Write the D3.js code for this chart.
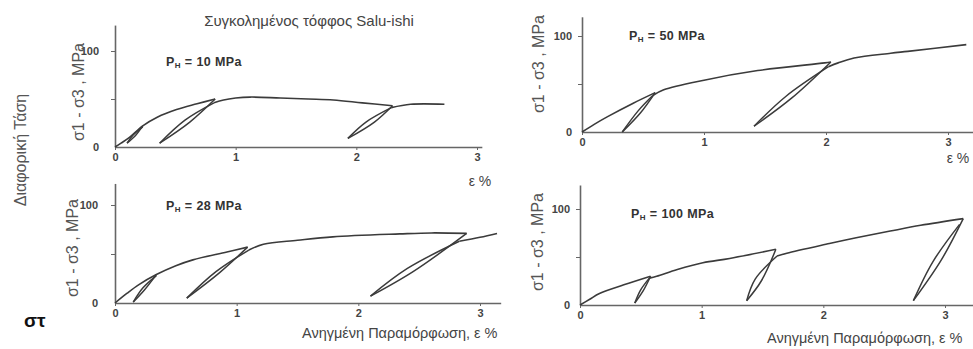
<!DOCTYPE html>
<html>
<head>
<meta charset="utf-8">
<script src="https://cdn.jsdelivr.net/npm/d3@7"></script>
<style>
  body { margin: 0; background: #fff; }
  svg { display: block; font-family: "Liberation Sans", Arial, sans-serif; }
</style>
</head>
<body>
<div id="chart"></div>
<script>
// ---- data (strain %, stress MPa) ----
var xTicks = [0, 1, 2, 3]
var yTicks = [0, 50, 100]
var yLabeled = [0, 100]

var pressures = ["10", "28", "50", "100"]

// envelope pieces, split where an unload loop starts
var env10 = [
  [[0,0],[0.05,4],[0.12,10],[0.23,22],[0.35,31],[0.51,39],[0.68,45],[0.83,50]],
  [[0.82,46],[0.9,49],[1.0,51],[1.12,52],[1.37,51],[1.6,50],[1.81,49],[2.05,46],[2.30,43]],
  [[2.29,41],[2.45,44.5],[2.73,44.5]]
]
// loop = top, unload mid, bottom, reload mid, exit
var loops10 = [
  [[0.23,22],[0.17,12],[0.10,4],[0.15,12.5],[0.23,21]],
  [[0.83,50],[0.62,26],[0.37,4],[0.58,28],[0.82,46]],
  [[2.30,43],[2.15,26],[1.93,9],[2.08,26],[2.29,41]]
]

var env28 = [
  [[0,0],[0.1,10],[0.2,19],[0.34,29],[0.5,38],[0.64,44],[0.92,52],[1.09,57]],
  [[1.10,54],[1.22,60],[1.5,64],[1.79,67.5],[2.34,70.5],[2.6,71.5],[2.89,71]],
  [[2.83,63],[3.0,67],[3.14,71]]
]
var loops28 = [
  [[0.34,29],[0.24,13],[0.15,1],[0.23,15.5],[0.34,28]],
  [[1.09,57],[0.86,31],[0.59,5],[0.83,32],[1.10,54]],
  [[2.89,71],[2.45,32],[2.10,7],[2.40,35],[2.83,63]]
]

var env50 = [
  [[0,0],[0.1,8],[0.21,16],[0.42,30],[0.60,41]],
  [[0.58,38],[0.67,44],[1.0,54],[1.44,64],[1.99,72],[2.04,73]],
  [[2.02,68],[2.1,72],[2.23,77],[2.53,82],[2.67,84],[3.15,91]]
]
var loops50 = [
  [[0.60,41],[0.48,20],[0.33,0],[0.46,22],[0.58,38]],
  [[2.04,73],[1.72,35.5],[1.41,6],[1.67,37],[2.02,68]]
]

var env100 = [
  [[0,0],[0.08,6],[0.16,12],[0.36,21],[0.58,30]],
  [[0.57,28],[0.63,30],[0.8,37],[1.01,44],[1.23,48.5],[1.61,58]],
  [[1.62,51],[1.70,54],[2.05,64],[2.27,70],[2.55,77],[2.8,83],[3.15,90]]
]
var loops100 = [
  [[0.58,30],[0.52,15],[0.45,2],[0.50,16],[0.57,28]],
  [[1.61,58],[1.49,25],[1.37,4.5],[1.44,27],[1.62,51]],
  [[3.15,90],[2.97,47],[2.74,4.5],[2.90,45],[3.12,84]]
]

var envelopes = [env10, env28, env50, env100]
var loopSets = [loops10, loops28, loops50, loops100]

// ---- layout of the four panels (pixels) ----
var panels = [
  {x0:115, x3:477, y0:147, y100:51,  xEnd:3.04, yEnd:127, pad:12, ph:[166,66],  lab:[84,92]},
  {x0:115, x3:480, y0:303, y100:205, xEnd:3.17, yEnd:122, pad:13, ph:[166,210], lab:[78,248]},
  {x0:582, x3:948, y0:132, y100:36,  xEnd:3.3,  yEnd:120, pad:6,  ph:[629,40],  lab:[544,64]},
  {x0:580, x3:945, y0:305, y100:209, xEnd:3.3,  yEnd:125, pad:6,  ph:[631,218], lab:[543,242]}
]

var W = 973, H = 349
var svg = d3.select("#chart").append("svg")
  .attr("width", W).attr("height", H)

var ink = "#3b3b3b"
var axisInk = "#666"

var line = d3.line()
  .x(function(d){ return d.sx })
  .y(function(d){ return d.sy })
  .curve(d3.curveCatmullRom.alpha(0.5))

panels.forEach(function(p, i){
  var x = d3.scaleLinear().domain([0,3]).range([p.x0, p.x3])
  var y = d3.scaleLinear().domain([0,100]).range([p.y0, p.y100])
  var xa = x.copy().domain([0, p.xEnd]).range([x(0), x(p.xEnd)])
  var ya = y.copy().domain([0, p.yEnd]).range([y(0), y(p.yEnd)])

  var g = svg.append("g")

  // x axis
  var gx = g.append("g")
    .attr("transform", "translate(0," + y(0) + ")")
    .call(d3.axisBottom(xa).tickValues(xTicks).tickFormat(d3.format("d"))
      .tickSizeInner(3).tickSizeOuter(0).tickPadding(3))
  // y axis
  var gy = g.append("g")
    .attr("transform", "translate(" + x(0) + ",0)")
    .call(d3.axisLeft(ya).tickValues(yTicks).tickSizeInner(4).tickSizeOuter(0).tickPadding(p.pad)
      .tickFormat(function(d){ return yLabeled.indexOf(d) >= 0 ? d : "" }))

  ;[gx, gy].forEach(function(a){
    a.select(".domain").attr("stroke", axisInk).attr("stroke-width", 1.6)
    a.selectAll(".tick line").attr("stroke", axisInk).attr("stroke-width", 1)
    a.selectAll(".tick text")
      .attr("fill", "#444")
      .style("font-size", "11px")
      .style("font-weight", "bold")
  })
  gy.selectAll(".tick").filter(function(d){ return d === 0 }).select("line").remove()

  // curves
  var toPx = function(pts){
    return pts.map(function(d){ return {sx: x(d[0]), sy: y(d[1])} })
  }
  envelopes[i].forEach(function(seg){
    g.append("path")
      .attr("d", line(toPx(seg)))
      .attr("fill", "none")
      .attr("stroke", ink)
      .attr("stroke-width", 1.6)
      .attr("stroke-linejoin", "round")
  })
  loopSets[i].forEach(function(lp){
    // unload branch: top -> bottom, reload branch: bottom -> exit
    var down = lp.slice(0, 3), up = lp.slice(2)
    ;[down, up].forEach(function(br){
      g.append("path")
        .attr("d", line(toPx(br)))
        .attr("fill", "none")
        .attr("stroke", ink)
        .attr("stroke-width", 1.5)
    })
  })

  // pressure label
  var t = g.append("text")
    .attr("x", p.ph[0]).attr("y", p.ph[1])
    .attr("fill", "#333")
    .style("font-size", "12.5px")
    .style("font-weight", "bold")
    .style("letter-spacing", "0.4px")
  t.append("tspan").text("P")
  t.append("tspan").attr("dy", 2).style("font-size", "8px").text("H")
  t.append("tspan").attr("dy", -2).text(" = " + pressures[i] + " MPa")

  // y label
  g.append("text")
    .attr("transform", "translate(" + p.lab[0] + "," + p.lab[1] + ") rotate(-90)")
    .attr("text-anchor", "middle")
    .attr("fill", "#555")
    .style("font-size", "16px")
    .text("σ1 - σ3 , MPa")
})

// ---- free text ----
svg.append("text")
  .attr("x", 309).attr("y", 26)
  .attr("text-anchor", "middle")
  .attr("fill", "#444")
  .style("font-size", "15px")
  .text("Συγκολημένος τόφφος Salu-ishi")

svg.append("text")
  .attr("transform", "translate(26,150) rotate(-90)")
  .attr("text-anchor", "middle")
  .attr("fill", "#555")
  .style("font-size", "16px")
  .text("Διαφορική Τάση")

svg.append("text")
  .attr("x", 24).attr("y", 327)
  .attr("fill", "#111")
  .style("font-size", "19px")
  .style("font-weight", "bold")
  .text("στ")

var epsLabels = [[480,186],[958,163]]
epsLabels.forEach(function(e){
  svg.append("text")
    .attr("x", e[0]).attr("y", e[1])
    .attr("text-anchor", "middle")
    .attr("fill", "#444")
    .style("font-size", "14px")
    .text("ε %")
})

var strainLabels = [[302,338],[767,343]]
strainLabels.forEach(function(e){
  svg.append("text")
    .attr("x", e[0]).attr("y", e[1])
    .attr("fill", "#444")
    .style("font-size", "14.5px")
    .text("Ανηγμένη  Παραμόρφωση, ε %")
})
</script>
</body>
</html>
